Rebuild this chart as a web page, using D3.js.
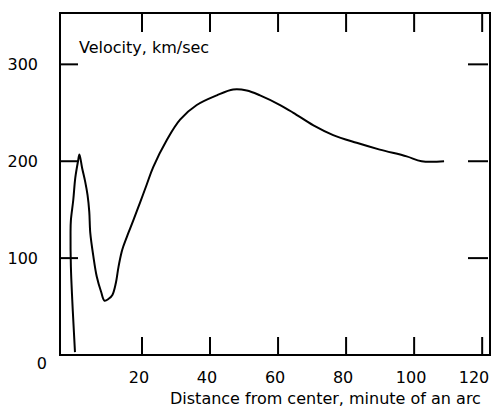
<!DOCTYPE html>
<html>
<head>
<meta charset="utf-8">
<script src="https://unpkg.com/d3@7.8.5/dist/d3.min.js"></script>
<style>
  body { margin: 0; background: #fff; }
  svg { display: block; }
</style>
</head>
<body>
<div id="chart"></div>
<script>
// distance from center (minute of arc) and velocity (km/sec), traced in path order
let distance = [0.3, 0.0, -0.5, -0.9, -1.0, -0.9, -0.2, 0.4, 1.2, 1.6,
    2.4, 3.3, 4.0, 4.5, 4.8, 5.7, 6.7, 8.0, 9.0, 10.2, 11.3, 12.3, 13.1, 14.0,
    14.5, 16.0, 17.45, 19.4, 21.4, 23.3, 27.3, 31.2, 36.1, 42.0, 46.8, 50.8,
    54.7, 60.6, 64.5, 70.4, 76.2, 83.1, 89.9, 97.8, 102.2, 108.8];
let velocity = [3, 23, 57, 91, 126, 139, 160, 183, 200, 207,
    193, 179, 165, 148, 126, 102, 81, 65, 56, 58, 62, 74, 91, 106,
    112, 126, 139, 157, 176, 194, 222, 243, 258, 268, 274, 273,
    268, 258, 250, 237, 227, 219, 212, 205, 200, 200];

let xTicks = [20, 40, 60, 80, 100, 120];
let yTicks = [100, 200, 300];
let yLabel = "Velocity, km/sec";
let xLabel = "Distance from center, minute of an arc";

function lineChart(div) {
    let width = 491;
    let height = 408;
    let left = 60, right = 490, top = 13, bottom = 355;
    let font = "'DejaVu Sans', Verdana, sans-serif";

    let svg = d3.select(div).append("svg")
        .attr("width", width)
        .attr("height", height);

    let x = d3.scaleLinear()
        .domain([-4.1, 122.3])
        .range([left, right]);
    let y = d3.scaleLinear()
        .domain([0, 353])
        .range([bottom, top]);

    // frame
    svg.append("rect")
        .attr("x", left)
        .attr("y", top)
        .attr("width", right - left)
        .attr("height", bottom - top)
        .attr("fill", "none")
        .attr("stroke", "black")
        .attr("stroke-width", 2);

    // inward ticks, bottom and top
    svg.selectAll(".xtick-b")
        .data(xTicks)
        .join("line")
        .attr("class", "xtick-b")
        .attr("x1", d => x(d)).attr("x2", d => x(d))
        .attr("y1", bottom).attr("y2", bottom - 18)
        .attr("stroke", "black").attr("stroke-width", 2);
    svg.selectAll(".xtick-t")
        .data(xTicks)
        .join("line")
        .attr("class", "xtick-t")
        .attr("x1", d => x(d)).attr("x2", d => x(d))
        .attr("y1", top).attr("y2", top + 19)
        .attr("stroke", "black").attr("stroke-width", 2);

    // inward ticks, left and right
    svg.selectAll(".ytick-l")
        .data(yTicks)
        .join("line")
        .attr("class", "ytick-l")
        .attr("x1", left).attr("x2", left + 18)
        .attr("y1", d => y(d)).attr("y2", d => y(d))
        .attr("stroke", "black").attr("stroke-width", 2);
    svg.selectAll(".ytick-r")
        .data(yTicks)
        .join("line")
        .attr("class", "ytick-r")
        .attr("x1", right - 22).attr("x2", right - 2)
        .attr("y1", d => y(d)).attr("y2", d => y(d))
        .attr("stroke", "black").attr("stroke-width", 2);

    // tick labels (kept inside the page on the right)
    svg.selectAll(".xlabel")
        .data(xTicks)
        .join("text")
        .attr("class", "xlabel")
        .attr("x", d => Math.min(x(d) - 3, width - 17))
        .attr("y", 383)
        .attr("text-anchor", "middle")
        .attr("font-family", font)
        .attr("font-size", 16)
        .text(d => d);
    svg.selectAll(".ylabel")
        .data(yTicks)
        .join("text")
        .attr("class", "ylabel")
        .attr("x", 38)
        .attr("y", d => y(d) + 6)
        .attr("text-anchor", "end")
        .attr("font-family", font)
        .attr("font-size", 16)
        .text(d => d);
    svg.append("text")
        .attr("x", 47)
        .attr("y", y(0) + 14)
        .attr("text-anchor", "end")
        .attr("font-family", font)
        .attr("font-size", 16)
        .text("0");

    // axis titles
    svg.append("text")
        .attr("x", 79)
        .attr("y", 53)
        .attr("font-family", font)
        .attr("font-size", 16)
        .text(yLabel);
    svg.append("text")
        .attr("x", 170)
        .attr("y", 404)
        .attr("font-family", font)
        .attr("font-size", 16)
        .text(xLabel);

    // curve
    let points = distance.map((d, i) => [d, velocity[i]]);
    let line = d3.line()
        .x(d => x(d[0]))
        .y(d => y(d[1]))
        .curve(d3.curveCatmullRom.alpha(0.5));

    svg.append("path")
        .datum(points)
        .attr("d", line)
        .attr("fill", "none")
        .attr("stroke", "black")
        .attr("stroke-width", 2);
};
lineChart("#chart");
</script>
</body>
</html>
